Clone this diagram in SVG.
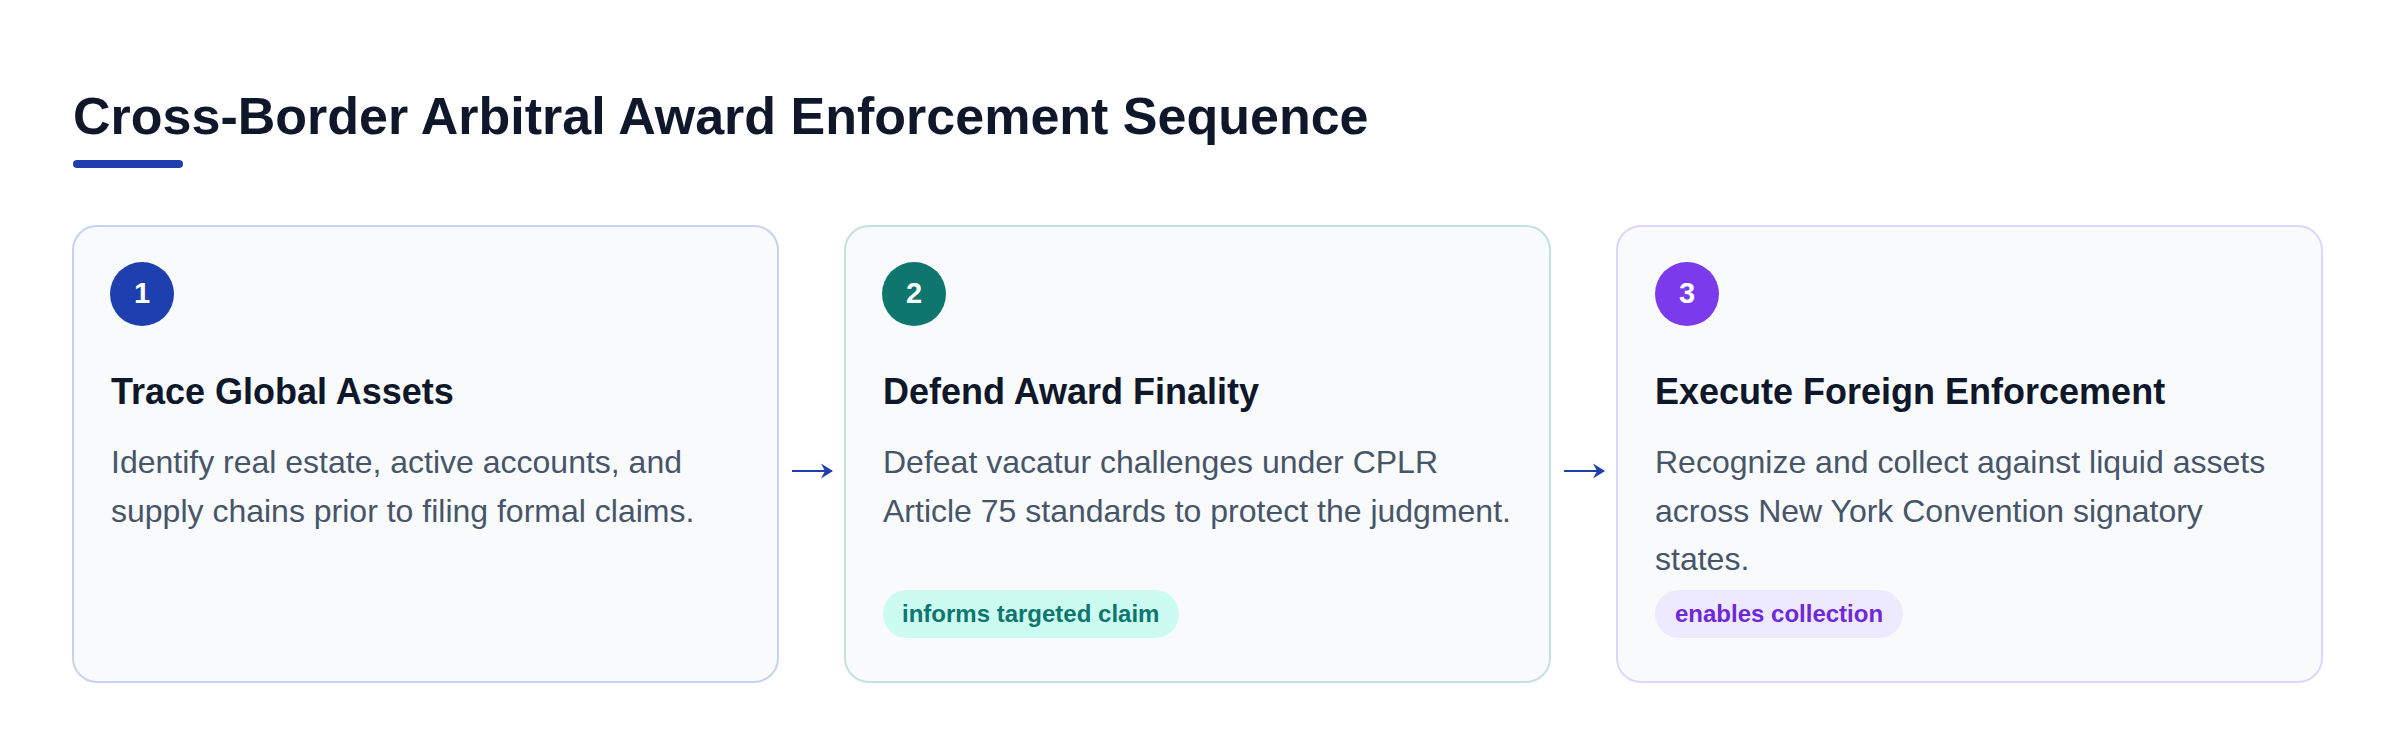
<svg xmlns="http://www.w3.org/2000/svg" width="2400" height="756" viewBox="0 0 2400 756">
  <defs>
    <style>
      .bg { fill: #ffffff; }
      .card { fill: #f8fafc; stroke-width: 2; }
      .c1 { stroke: #c7d2f0; }
      .c2 { stroke: #c4e2dd; }
      .c3 { stroke: #ddd6fb; }
      .num { font-family: "Liberation Sans", Arial, sans-serif; font-weight: 700; font-size: 29px; fill: #ffffff; text-anchor: middle; }
      .title { font-family: "Liberation Sans", Arial, sans-serif; font-weight: 700; font-size: 52px; fill: #0f172a; }
      .ctitle { font-family: "Liberation Sans", Arial, sans-serif; font-weight: 700; font-size: 36px; fill: #0f172a; }
      .desc { font-family: "Liberation Sans", Arial, sans-serif; font-size: 32px; fill: #475569; }
      .pill { font-family: "Liberation Sans", Arial, sans-serif; font-weight: 700; font-size: 24px; }
      .conn { stroke: #1e40af; stroke-width: 2.2; fill: none; }
    </style>
    <marker id="ah" viewBox="0 0 12 16" refX="11" refY="8" markerWidth="12" markerHeight="16" markerUnits="userSpaceOnUse" orient="auto">
      <path d="M0,0.5 L12,8 L0,15.5 L4,8 Z" fill="#1e40af"/>
    </marker>
  </defs>
  <rect class="bg" x="0" y="0" width="2400" height="756"/>

  <g id="header">
    <text class="title" x="73" y="134">Cross-Border Arbitral Award Enforcement Sequence</text>
    <rect x="73" y="160" width="110" height="8" rx="4" fill="#1e40af"/>
  </g>

  <g id="step1">
    <rect class="card c1" x="73" y="226" width="705" height="456" rx="24"/>
    <circle cx="142" cy="294" r="32" fill="#1e40af"/>
    <text class="num" x="142" y="302.5">1</text>
    <text class="ctitle" x="111" y="404">Trace Global Assets</text>
    <text class="desc" x="111" y="473">Identify real estate, active accounts, and</text>
    <text class="desc" x="111" y="521.5">supply chains prior to filing formal claims.</text>
  </g>

  <g id="step2">
    <rect class="card c2" x="845" y="226" width="705" height="456" rx="24"/>
    <circle cx="914" cy="294" r="32" fill="#0f766e"/>
    <text class="num" x="914" y="302.5">2</text>
    <text class="ctitle" x="883" y="404">Defend Award Finality</text>
    <text class="desc" x="883" y="473">Defeat vacatur challenges under CPLR</text>
    <text class="desc" x="883" y="521.5">Article 75 standards to protect the judgment.</text>
    <rect x="883" y="590" width="296" height="48" rx="24" fill="#ccfbf1"/>
    <text class="pill" x="902" y="622" fill="#0f766e">informs targeted claim</text>
  </g>

  <g id="step3">
    <rect class="card c3" x="1617" y="226" width="705" height="456" rx="24"/>
    <circle cx="1687" cy="294" r="32" fill="#7c3aed"/>
    <text class="num" x="1687" y="302.5">3</text>
    <text class="ctitle" x="1655" y="404">Execute Foreign Enforcement</text>
    <text class="desc" x="1655" y="473">Recognize and collect against liquid assets</text>
    <text class="desc" x="1655" y="521.5">across New York Convention signatory</text>
    <text class="desc" x="1655" y="570">states.</text>
    <rect x="1655" y="590" width="248" height="48" rx="24" fill="#ede9fe"/>
    <text class="pill" x="1675" y="622" fill="#6d28d9">enables collection</text>
  </g>

  <g id="connectors">
    <line class="conn" x1="792" y1="471" x2="832" y2="471" marker-end="url(#ah)"/>
    <line class="conn" x1="1564" y1="471" x2="1604" y2="471" marker-end="url(#ah)"/>
  </g>
</svg>
